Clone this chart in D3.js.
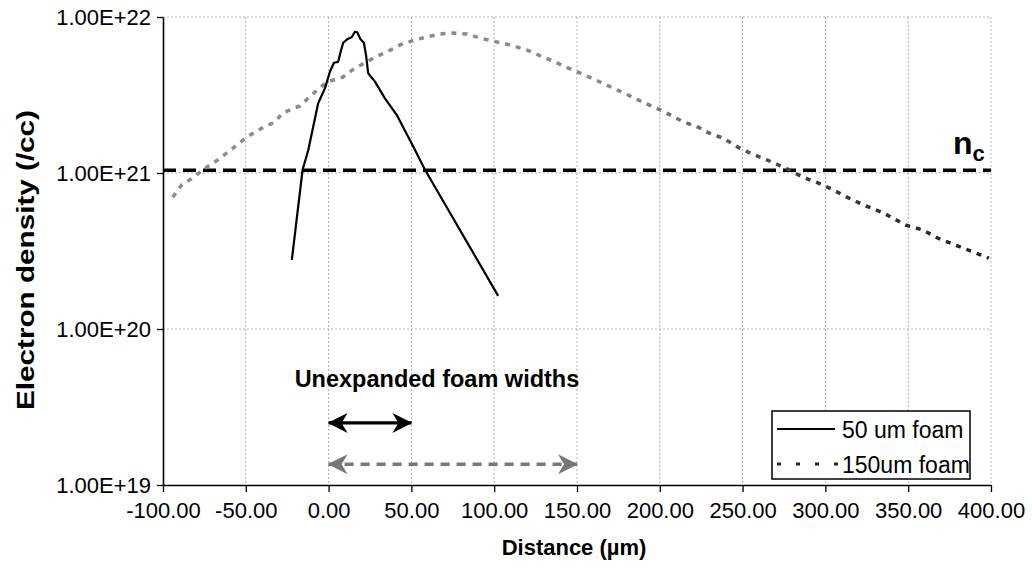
<!DOCTYPE html>
<html>
<head>
<meta charset="utf-8">
<script src="https://cdn.jsdelivr.net/npm/d3@7"></script>
<style>
  body { margin: 0; background: #fff; }
  text { font-family: "Liberation Sans", Arial, sans-serif; fill: #000; }
</style>
</head>
<body>
<div class="chart"></div>
<script>
// data
var foam50X = [-22.2, -15.7, -12.3, -6.3, -2.2, 0.8, 3.2, 5.8, 7.3, 8.8, 11.2, 13.9, 15.9, 17.3,
  19.3, 21.3, 22.6, 23.9, 28.0, 34.0, 41.1, 51.1, 58.2, 102.4];
var foam50Density = [2.77e20, 1.05e21, 1.40e21, 2.80e21, 3.49e21, 4.46e21, 5.09e21, 5.16e21, 6.0e21, 6.84e21,
  7.19e21, 7.41e21, 8.05e21, 7.98e21, 7.19e21, 6.84e21, 5.70e21, 4.36e21, 3.85e21, 3.01e21,
  2.36e21, 1.48e21, 1.05e21, 1.63e20];

var foam150X = [-94.1, -88.7, -82.7, -73.6, -67.0, -57.9, -49.4, -40.3, -32.5, -27.6, -17.4, -8.3, -1.0,
  8.6, 16.0, 21.9, 28.0, 35.2, 43.1, 52.2, 59.4, 67.3, 75.1, 83.6, 91.5, 99.4, 109.6, 119.9,
  129.6, 136.8, 143.5, 149.9, 156.9, 164.0, 172.1, 181.1, 191.2, 201.3, 213.4, 223.5, 229.5,
  238.4, 246.9, 254.7, 265.0, 277.1, 286.1, 295.8, 304.9, 314.0, 323.1, 335.1, 348.4, 358.7,
  367.8, 376.9, 386.0, 395.6, 398.7];
var foam150Density = [7.0e20, 8.4e20, 9.2e20, 1.09e21, 1.21e21, 1.44e21, 1.70e21, 1.94e21, 2.12e21, 2.43e21,
  2.69e21, 3.30e21, 3.83e21, 4.12e21, 4.71e21, 5.07e21, 5.54e21, 5.97e21, 6.62e21, 7.13e21,
  7.45e21, 7.78e21, 7.89e21, 7.78e21, 7.33e21, 7.01e21, 6.62e21, 6.14e21, 5.54e21, 5.15e21,
  4.77e21, 4.46e21, 4.14e21, 3.83e21, 3.49e21, 3.15e21, 2.80e21, 2.51e21, 2.15e21, 1.96e21,
  1.81e21, 1.67e21, 1.47e21, 1.34e21, 1.21e21, 1.06e21, 9.43e20, 8.62e20, 7.78e20, 6.92e20,
  6.24e20, 5.54e20, 4.64e20, 4.32e20, 3.83e20, 3.51e20, 3.21e20, 2.94e20, 2.85e20];

var criticalDensity = 1.04e21;

var xTicks = [-100, -50, 0, 50, 100, 150, 200, 250, 300, 350, 400];
var yTicks = [1e19, 1e20, 1e21, 1e22];
var yTickLabels = ["1.00E+19", "1.00E+20", "1.00E+21", "1.00E+22"];

var seriesNames = ["50 um foam", "150um foam"];

// foam width arrows: [start, end, density level]
var arrow50 = [0, 50, 2.5e19];
var arrow150 = [0, 150, 1.36e19];

var svgWidth = 1032;
var svgHeight = 572;

var margin = { top: 17, right: 41, bottom: 87, left: 163 },
  chartWidth = svgWidth - margin.left - margin.right,
  chartHeight = svgHeight - margin.top - margin.bottom;

var svg = d3.select(".chart").append("svg")
  .attr("width", svgWidth)
  .attr("height", svgHeight);

var defs = svg.append("defs");

// left part of the 150um curve prints grey, right part dark
var grad = defs.append("linearGradient")
  .attr("id", "fadeGrad")
  .attr("gradientUnits", "userSpaceOnUse")
  .attr("x1", 0).attr("x2", chartWidth).attr("y1", 0).attr("y2", 0);
grad.append("stop").attr("offset", "0").attr("stop-color", "#8c8c8c");
grad.append("stop").attr("offset", "0.55").attr("stop-color", "#8a8a8a");
grad.append("stop").attr("offset", "0.78").attr("stop-color", "#3a3a3a");
grad.append("stop").attr("offset", "1").attr("stop-color", "#222");

// arrow heads, drawn in page pixels
function addHead(id, color) {
  defs.append("marker")
    .attr("id", id)
    .attr("viewBox", "0 0 20 22")
    .attr("refX", 19).attr("refY", 11)
    .attr("markerWidth", 20).attr("markerHeight", 22)
    .attr("markerUnits", "userSpaceOnUse")
    .attr("orient", "auto-start-reverse")
    .append("path")
    .attr("d", "M0,1 L20,11 L0,21 L6,11 Z")
    .attr("fill", color);
}
addHead("headBlack", "#000");
addHead("headGrey", "#777");

var chartGroup = svg.append("g")
  .attr("transform", `translate(${margin.left}, ${margin.top})`);

// scales
var xScale = d3.scaleLinear()
  .domain([-100, 400])
  .range([0, chartWidth]);

var yScale = d3.scaleLog()
  .domain([1e19, 1e22])
  .range([chartHeight, 0]);

// grid lines
chartGroup.append("g")
  .selectAll("line")
  .data(xTicks.slice(1))
  .enter()
  .append("line")
  .attr("x1", d => xScale(d)).attr("x2", d => xScale(d))
  .attr("y1", 0).attr("y2", chartHeight)
  .attr("stroke", "#b0b0b0")
  .attr("stroke-width", 1)
  .attr("stroke-dasharray", "2,2");

chartGroup.append("g")
  .selectAll("line")
  .data(yTicks.slice(1))
  .enter()
  .append("line")
  .attr("x1", 0).attr("x2", chartWidth)
  .attr("y1", d => yScale(d)).attr("y2", d => yScale(d))
  .attr("stroke", "#b0b0b0")
  .attr("stroke-width", 1)
  .attr("stroke-dasharray", "2,2");

// axes
var bottomAxis = d3.axisBottom(xScale)
  .tickValues(xTicks)
  .tickFormat(d => d3.format(".2f")(d).replace("\u2212", "-"))
  .tickSizeInner(7)
  .tickSizeOuter(0)
  .tickPadding(10);

var leftAxis = d3.axisLeft(yScale)
  .tickValues(yTicks)
  .tickFormat((d, i) => yTickLabels[i])
  .tickSizeInner(6)
  .tickSizeOuter(0)
  .tickPadding(6);

var xAxisG = chartGroup.append("g")
  .attr("transform", `translate(0, ${chartHeight})`)
  .call(bottomAxis);

var yAxisG = chartGroup.append("g")
  .call(leftAxis);

[xAxisG, yAxisG].forEach(function(g) {
  g.select(".domain").attr("stroke", "#000").attr("stroke-width", 1.6);
  g.selectAll(".tick line").attr("stroke", "#000").attr("stroke-width", 1.3);
  g.selectAll(".tick text")
    .attr("font-family", "'Liberation Sans', Arial, sans-serif")
    .style("font-size", "22px")
    .attr("fill", "#000");
});

// critical density line
chartGroup.append("line")
  .attr("x1", xScale(-100)).attr("x2", xScale(400))
  .attr("y1", yScale(criticalDensity)).attr("y2", yScale(criticalDensity))
  .attr("stroke", "#000")
  .attr("stroke-width", 3.5)
  .attr("stroke-dasharray", "13,7");

// curves
var line = d3.line()
  .x(d => xScale(d[0]))
  .y(d => yScale(d[1]));

chartGroup.append("path")
  .datum(d3.zip(foam150X, foam150Density))
  .attr("d", line)
  .attr("fill", "none")
  .attr("stroke", "url(#fadeGrad)")
  .attr("stroke-width", 3.5)
  .attr("stroke-dasharray", "5,6");

chartGroup.append("path")
  .datum(d3.zip(foam50X, foam50Density))
  .attr("d", line)
  .attr("fill", "none")
  .attr("stroke", "#000")
  .attr("stroke-width", 2.2)
  .attr("stroke-linejoin", "round");

// n_c label
var ncLabel = chartGroup.append("text")
  .attr("x", xScale(377))
  .attr("y", yScale(criticalDensity) - 16)
  .style("font-weight", "bold")
  .style("font-size", "32px");
ncLabel.append("tspan").text("n");
ncLabel.append("tspan")
  .attr("dy", 7)
  .style("font-size", "22px")
  .text("c");

// foam width annotation
chartGroup.append("text")
  .attr("x", xScale(-20.5))
  .attr("y", yScale(4.25e19))
  .style("font-weight", "bold")
  .style("font-size", "23.5px")
  .text("Unexpanded foam widths");

chartGroup.append("line")
  .attr("x1", xScale(arrow50[0])).attr("x2", xScale(arrow50[1]))
  .attr("y1", yScale(arrow50[2])).attr("y2", yScale(arrow50[2]))
  .attr("stroke", "#000")
  .attr("stroke-width", 3.2)
  .attr("marker-start", "url(#headBlack)")
  .attr("marker-end", "url(#headBlack)");

chartGroup.append("line")
  .attr("x1", xScale(arrow150[0])).attr("x2", xScale(arrow150[1]))
  .attr("y1", yScale(arrow150[2])).attr("y2", yScale(arrow150[2]))
  .attr("stroke", "#777")
  .attr("stroke-width", 3.5)
  .attr("stroke-dasharray", "9,7")
  .attr("marker-start", "url(#headGrey)")
  .attr("marker-end", "url(#headGrey)");

// legend
var legend = svg.append("g")
  .attr("transform", "translate(772, 411)");

legend.append("rect")
  .attr("width", 198)
  .attr("height", 68)
  .attr("fill", "#fff")
  .attr("stroke", "#000")
  .attr("stroke-width", 1.5);

legend.append("line")
  .attr("x1", 5).attr("x2", 63)
  .attr("y1", 18).attr("y2", 18)
  .attr("stroke", "#000")
  .attr("stroke-width", 1.8);

legend.append("line")
  .attr("x1", 5).attr("x2", 66)
  .attr("y1", 53).attr("y2", 53)
  .attr("stroke", "#222")
  .attr("stroke-width", 3)
  .attr("stroke-dasharray", "4,15");

legend.selectAll("text.leg")
  .data(seriesNames)
  .enter()
  .append("text")
  .attr("class", "leg")
  .attr("x", 70)
  .attr("y", (d, i) => 27 + i * 35)
  .style("font-size", "23px")
  .text(d => d);

// axis titles
svg.append("text")
  .attr("transform", "rotate(-90)")
  .attr("x", -260)
  .attr("y", 34)
  .attr("text-anchor", "middle")
  .attr("textLength", 300)
  .attr("lengthAdjust", "spacingAndGlyphs")
  .style("font-weight", "bold")
  .style("font-size", "24px")
  .text("Electron density (/cc)");

svg.append("text")
  .attr("x", 574)
  .attr("y", 555)
  .attr("text-anchor", "middle")
  .style("font-weight", "bold")
  .style("font-size", "22px")
  .text("Distance (µm)");
</script>
</body>
</html>
